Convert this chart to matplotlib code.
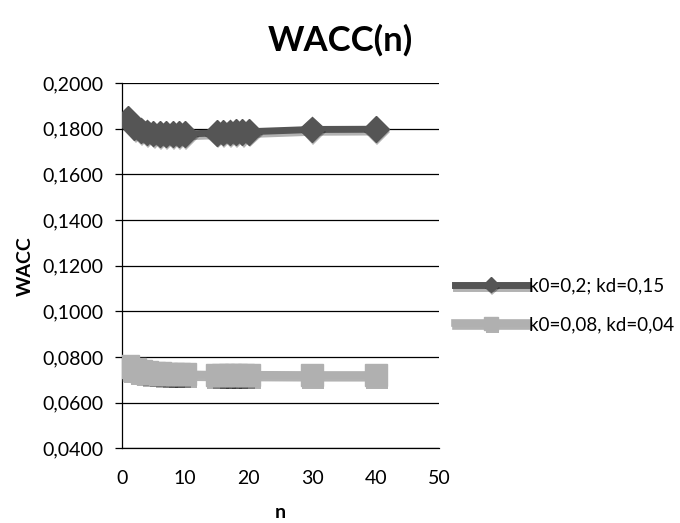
import matplotlib
matplotlib.use("Agg")
import matplotlib.pyplot as plt
import matplotlib.patheffects as pe
from matplotlib.ticker import FuncFormatter

# ── Data ──────────────────────────────────────────────────────────────────────
n1 = [1, 2, 3, 4, 5, 6, 7, 8, 9, 10, 15, 16, 17, 18, 19, 20, 30, 40]
wacc1 = [0.1842, 0.1808, 0.1793, 0.1784, 0.1779, 0.1777, 0.1776, 0.1776, 0.1776, 0.1777,
         0.1782, 0.1783, 0.1784, 0.1785, 0.1786, 0.1787, 0.1797, 0.1798]

n2 = [1, 2, 3, 4, 5, 6, 7, 8, 9, 10, 15, 16, 17, 18, 19, 20, 30, 40]
wacc2 = [0.0758, 0.0745, 0.0737, 0.0732, 0.0729, 0.0727, 0.0726, 0.0725, 0.0724, 0.0724,
         0.0722, 0.0722, 0.0722, 0.0722, 0.0722, 0.0722, 0.0721, 0.0721]

labels = ["k0=0,2; kd=0,15", "k0=0,08, kd=0,04"]
yticks = [0.04, 0.06, 0.08, 0.10, 0.12, 0.14, 0.16, 0.18, 0.20]

plt.rcParams["font.family"] = ["Lato", "DejaVu Sans"]

fig = plt.figure(figsize=(6.8, 5.23), dpi=100)
ax = fig.add_axes([0.179, 0.143, 0.467, 0.698])

line_sh = [pe.SimpleLineShadow(offset=(0.8, -2), alpha=0.3, shadow_color="black"), pe.Normal()]
mark_sh = [pe.SimplePatchShadow(offset=(0.8, -2), alpha=0.3, shadow_rgbFace="black"), pe.Normal()]

handles = []
for xs, ys, col, lw, mk, ms in [(n1, wacc1, "#555555", 5, "D", 13),
                               (n2, wacc2, "#b0b0b0", 5.5, "s", 16)]:
    ln, = ax.plot(xs, ys, color=col, lw=lw, path_effects=line_sh, zorder=3)
    mks, = ax.plot(xs, ys, ls="none", marker=mk, ms=ms, color=col,
                   markeredgecolor=col, path_effects=mark_sh, zorder=4)
    handles.append((ln, mks))

ax.set_xlim(0, 50)
ax.set_ylim(0.04, 0.20)
ax.set_yticks(yticks)
ax.set_xticks(range(0, 51, 10))
ax.yaxis.set_major_formatter(FuncFormatter(lambda v, _: f"{v:.4f}".replace(".", ",")))
ax.grid(axis="y", color="black", lw=0.9)
ax.set_axisbelow(True)
for s in ["top", "right"]:
    ax.spines[s].set_visible(False)
for s in ["left", "bottom"]:
    ax.spines[s].set_linewidth(0.9)
ax.tick_params(axis="y", length=5, width=0.9, labelsize=14, pad=8)
ax.tick_params(axis="x", length=0, labelsize=14, pad=16)

ax.set_xlabel("n", fontsize=14, fontweight="bold", labelpad=12)
ax.set_ylabel("WACC", fontsize=14, fontweight="bold", labelpad=6)
fig.suptitle("WACC(n)", fontsize=25, fontweight="bold", x=0.5, y=0.955)

ax.legend(handles, labels, loc="center left", bbox_to_anchor=(0.995, 0.392), frameon=False,
          fontsize=13.5, handlelength=3.9, labelspacing=1.15, handletextpad=0.05,
          markerscale=0.6)

fig.savefig("out.png", dpi=100)
